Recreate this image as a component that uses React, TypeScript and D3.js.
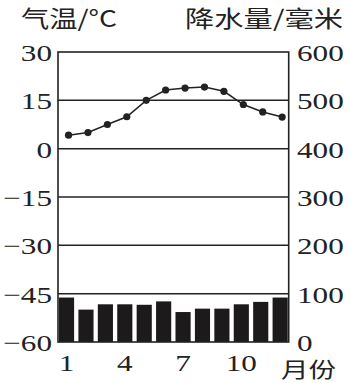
import React, { useRef, useEffect } from 'react';
import * as d3 from 'd3';

const months = [1, 2, 3, 4, 5, 6, 7, 8, 9, 10, 11, 12];
const temperature = [4.2, 5.0, 7.5, 9.9, 15.0, 18.2, 18.8, 19.1, 17.8, 13.7, 11.4, 9.8];
const precipitation = [92, 67, 78, 78, 77, 84, 62, 69, 69, 78, 83, 92];
const tempTicks = [30, 15, 0, -15, -30, -45, -60];
const precipTicks = [600, 500, 400, 300, 200, 100, 0];
const monthTicks = [1, 4, 7, 10];

const W = 351;
const H = 383;

const App: React.FC = () => {
  const svgRef = useRef<SVGSVGElement | null>(null);

  useEffect(() => {
    if (!svgRef.current) return;
    const svg = d3.select(svgRef.current);
    svg.selectAll('*').remove(); // Clear previous chart

    const left = 58;
    const right = 288.7;
    const top = 52;
    const bottom = 342;
    const ink = '#222';
    const sx = 1.3; // glyphs in the reference are wide

    const x = d3.scaleBand<number>().domain(months).range([left, right]).paddingInner(0.22).paddingOuter(0.05);
    const yT = d3.scaleLinear().domain([-60, 30]).range([bottom, top]);
    const yP = d3.scaleLinear().domain([0, 600]).range([bottom, top]);
    const cx = (m: number) => (x(m) ?? 0) + x.bandwidth() / 2;
    const px = (m: number) => cx(m) + 2; // dots sit a little right of the bar centres

    // grid lines
    svg.append('g')
      .selectAll('line')
      .data(tempTicks.slice(1, -1))
      .enter().append('line')
      .attr('x1', left)
      .attr('x2', right)
      .attr('y1', d => yT(d))
      .attr('y2', d => yT(d))
      .attr('stroke', ink)
      .attr('stroke-width', 1.5);

    // precipitation bars
    svg.append('g')
      .selectAll('rect')
      .data(precipitation)
      .enter().append('rect')
      .attr('x', (d, i) => x(months[i]) ?? 0)
      .attr('y', d => yP(d))
      .attr('width', x.bandwidth())
      .attr('height', d => bottom - yP(d))
      .attr('fill', '#1c1a1a');

    // frame
    svg.append('rect')
      .attr('x', left)
      .attr('y', top)
      .attr('width', right - left)
      .attr('height', bottom - top)
      .attr('fill', 'none')
      .attr('stroke', ink)
      .attr('stroke-width', 1.6);

    // temperature line
    const line = d3.line<number>()
      .x((d, i) => px(months[i]))
      .y(d => yT(d));

    svg.append('path')
      .datum(temperature)
      .attr('d', line)
      .attr('fill', 'none')
      .attr('stroke', ink)
      .attr('stroke-width', 1.5);

    svg.append('g')
      .selectAll('circle')
      .data(temperature)
      .enter().append('circle')
      .attr('cx', (d, i) => px(months[i]))
      .attr('cy', d => yT(d))
      .attr('r', 3.6)
      .attr('fill', ink);

    const serif = '"Liberation Serif", "DejaVu Serif", serif';
    const cjk = '"Noto Sans CJK SC", sans-serif';

    const label = (txt: string, x0: number, y0: number, anchor: string, scale: number) => {
      svg.append('text')
        .attr('transform', `translate(${x0},${y0}) scale(${scale},1)`)
        .attr('text-anchor', anchor)
        .attr('font-family', serif)
        .attr('font-size', 24)
        .attr('fill', ink)
        .text(txt);
    };

    const title = (txt: string, x0: number, y0: number, len: number, size: number) => {
      svg.append('text')
        .attr('x', x0)
        .attr('y', y0)
        .attr('font-family', cjk)
        .attr('font-size', size)
        .attr('textLength', len)
        .attr('lengthAdjust', 'spacingAndGlyphs')
        .attr('fill', ink)
        .text(txt);
    };

    // left axis labels
    tempTicks.forEach(t => {
      const s = t < 0 ? `\u2212${Math.abs(t)}` : `${t}`;
      label(s, 52, yT(t) + 9, 'end', sx);
    });

    // right axis labels
    precipTicks.forEach(p => {
      label(`${p}`, 297, yP(p) + 9, 'start', sx);
    });

    // month labels
    monthTicks.forEach(m => {
      label(`${m}`, cx(m), 371, 'middle', sx);
    });

    title('气温/°C', 21, 27, 96, 23);
    title('降水量/毫米', 185, 27, 158, 23);
    title('月份', 281, 377, 55, 21);
  }, []);

  return (
    <svg
      ref={svgRef}
      width={W}
      height={H}
      style={{ position: 'absolute', left: 0, top: 0, background: '#fff' }}
    />
  );
};

export default App;
